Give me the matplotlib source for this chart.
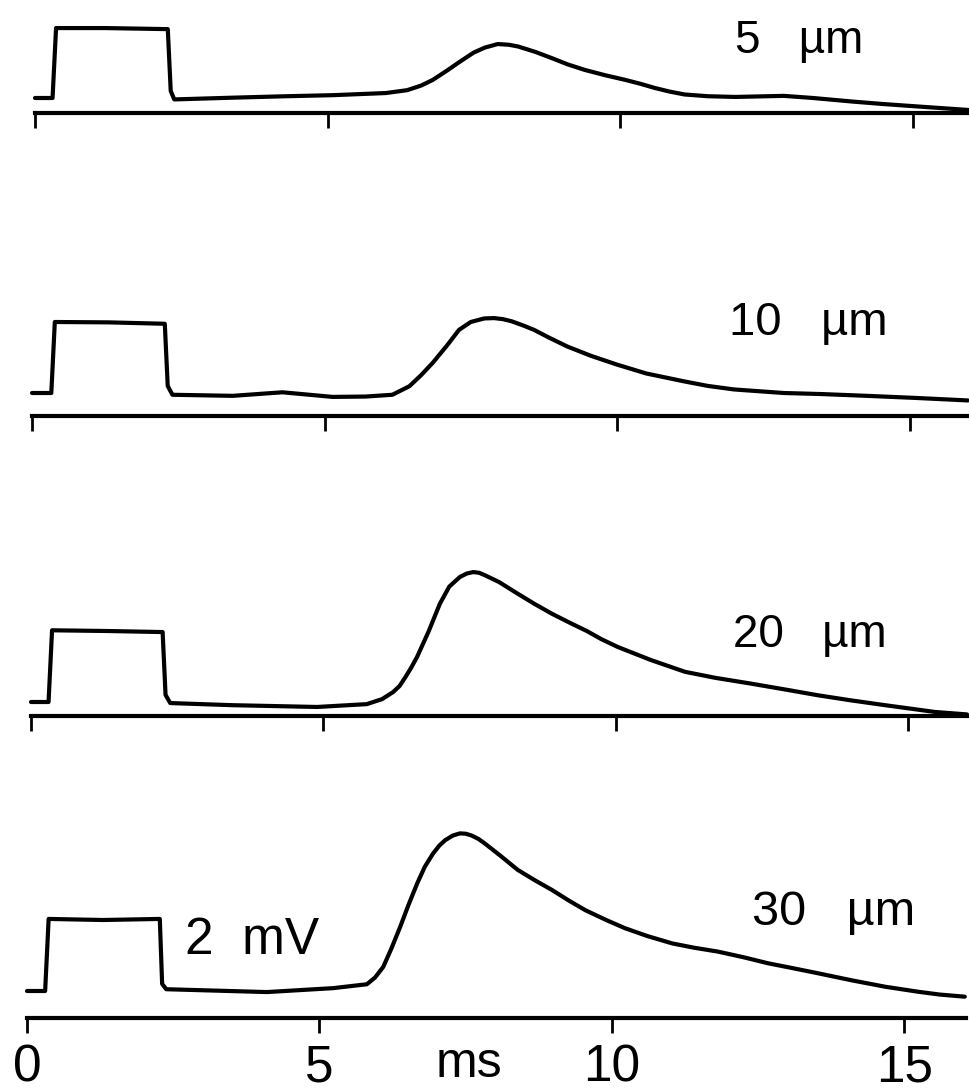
import numpy as np
import matplotlib.pyplot as plt

plt.rcParams['font.family'] = ['Liberation Sans', 'DejaVu Sans']

# ---- data (time in ms, potential in mV relative to the start baseline) ----
t_5um = [0, 0.30, 0.36, 1.2, 2.27, 2.32, 2.38, 3.4, 4.3, 5.1, 6.0, 6.36, 6.6, 6.8, 7.05, 7.26, 7.5, 7.69,
         7.91, 8.1, 8.26, 8.55, 8.84, 9.1, 9.40, 9.75, 10.09, 10.35, 10.6, 10.85, 11.1, 11.5, 11.97, 12.8,
         13.3, 13.97, 14.5, 15.1, 15.98]
v_5um = [0, 0, 1.97, 1.97, 1.94, 0.2, -0.04, 0.01, 0.05, 0.08, 0.14, 0.22, 0.35, 0.51, 0.78, 1.02, 1.28, 1.42,
         1.52, 1.50, 1.45, 1.30, 1.12, 0.95, 0.79, 0.64, 0.51, 0.40, 0.28, 0.18, 0.10, 0.05, 0.03, 0.06,
         0.0, -0.10, -0.17, -0.24, -0.34]

t_10um = [0, 0.33, 0.39, 1.3, 2.27, 2.32, 2.40, 3.43, 4.28, 5.14, 5.7, 6.16, 6.45, 6.65, 6.85, 7.1, 7.30, 7.5,
          7.73, 7.9, 8.05, 8.2, 8.4, 8.58, 8.85, 9.15, 9.55, 10.0, 10.5, 11.14, 11.55, 12.0, 12.85, 13.5,
          14.27, 15.12, 16.0]
v_10um = [0, 0, 2.0, 1.99, 1.95, 0.2, -0.05, -0.08, 0.02, -0.11, -0.10, -0.05, 0.19, 0.50, 0.85, 1.35, 1.78, 2.0,
          2.10, 2.11, 2.08, 2.02, 1.90, 1.78, 1.55, 1.31, 1.05, 0.80, 0.55, 0.33, 0.20, 0.10, 0.0, -0.03,
          -0.08, -0.14, -0.21]

t_20um = [0, 0.30, 0.36, 1.3, 2.25, 2.30, 2.38, 3.45, 4.89, 5.74, 6.0, 6.19, 6.3, 6.4, 6.5, 6.6, 6.8, 6.99,
          7.15, 7.33, 7.45, 7.56, 7.66, 7.76, 8.0, 8.32, 8.6, 8.9, 9.2, 9.5, 9.75, 10.03, 10.6, 11.18, 11.7,
          12.3, 12.9, 13.45, 14.0, 14.6, 15.45, 16.0]
v_20um = [0, 0, 2.02, 2.0, 1.97, 0.2, -0.03, -0.09, -0.14, -0.06, 0.08, 0.28, 0.45, 0.70, 0.97, 1.27, 2.0, 2.77,
          3.25, 3.52, 3.62, 3.66, 3.64, 3.57, 3.38, 3.05, 2.77, 2.49, 2.24, 2.0, 1.77, 1.55, 1.18, 0.85, 0.68,
          0.52, 0.35, 0.19, 0.05, -0.09, -0.28, -0.35]

t_30um = [0, 0.31, 0.37, 1.3, 2.27, 2.31, 2.38, 4.1, 5.23, 5.81, 5.95, 6.09, 6.23, 6.38, 6.52, 6.67, 6.8, 6.94,
          7.05, 7.15, 7.28, 7.40, 7.5, 7.6, 7.72, 7.83, 8.1, 8.39, 8.68, 8.97, 9.25, 9.54, 9.9, 10.22, 10.6,
          11.03, 11.4, 11.81, 12.25, 12.67, 13.1, 13.52, 14.1, 14.67, 15.23, 15.6, 16.03]
v_30um = [0, 0, 2.03, 2.0, 2.03, 0.2, 0.05, -0.03, 0.08, 0.19, 0.38, 0.68, 1.2, 1.81, 2.42, 3.03, 3.5, 3.87,
          4.10, 4.25, 4.38, 4.44, 4.43, 4.38, 4.28, 4.15, 3.80, 3.41, 3.12, 2.85, 2.56, 2.28, 2.0, 1.77, 1.55,
          1.34, 1.22, 1.11, 0.95, 0.78, 0.64, 0.50, 0.30, 0.12, -0.02, -0.10, -0.16]

traces_t = [t_5um, t_10um, t_20um, t_30um]
traces_v = [v_5um, v_10um, v_20um, v_30um]
trace_labels = ['5   µm', '10   µm', '20   µm', '30   µm']
axis_level = [-0.42, -0.64, -0.40, -0.77]   # mV level of each time axis
xticks = [0, 5, 10, 15]
t_end = 16.05

# ---- layout (pixels) ----
W, H, DPI = 970, 1091, 100
PX_MS = 58.5
PX_MV = 35.5
left_px = [35, 32, 31, 27]
base_px = [98, 393, 702, 991]
label_xy = [(11.97, 1.27), (11.91, 1.64), (12.0, 1.55), (12.39, 1.86)]
label_size = [33, 34, 33, 35]

fig = plt.figure(figsize=(W / DPI, H / DPI), dpi=DPI)

x_lo, x_hi = -0.2, 16.2
for i in range(4):
    top_v = 4.8
    bot_v = axis_level[i] - 1.3
    ax_left = left_px[i] + x_lo * PX_MS
    ax_w = (x_hi - x_lo) * PX_MS
    ax_top = base_px[i] - top_v * PX_MV
    ax_h = (top_v - bot_v) * PX_MV
    ax = fig.add_axes([ax_left / W, 1 - (ax_top + ax_h) / H, ax_w / W, ax_h / H])
    ax.set_xlim(x_lo, x_hi)
    ax.set_ylim(bot_v, top_v)
    ax.patch.set_visible(False)

    ax.plot(traces_t[i], traces_v[i], color='black', lw=3.0,
            solid_joinstyle='round', solid_capstyle='round')

    for s in ['left', 'right', 'top']:
        ax.spines[s].set_visible(False)
    ax.spines['bottom'].set_position(('data', axis_level[i]))
    ax.spines['bottom'].set_bounds(0, t_end)
    ax.spines['bottom'].set_linewidth(3.0)
    ax.set_yticks([])
    ax.set_xticks(xticks)
    ax.tick_params(axis='x', direction='out', length=11, width=2.0, pad=7, labelsize=37)
    if i < 3:
        ax.set_xticklabels([])
    else:
        # time unit under the axis, and the 2 mV calibration note
        ax.text(7.55, -(1077 - base_px[i]) / PX_MV, 'ms', fontsize=36,
                ha='center', va='baseline', clip_on=False)
        ax.text(2.70, 1.04, '2  mV', fontsize=37, ha='left', va='baseline')

    ax.text(label_xy[i][0], label_xy[i][1], trace_labels[i], fontsize=label_size[i],
            ha='left', va='baseline')

fig.savefig('out.png', dpi=DPI)
